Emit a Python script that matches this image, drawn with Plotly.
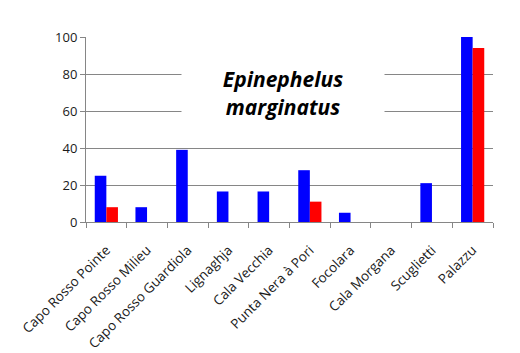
import plotly.graph_objects as go

categories = ["Capo Rosso Pointe", "Capo Rosso Milieu", "Capo Rosso Guardiola", "Lignaghja",
              "Cala Vecchia", "Punta Nera à Pori", "Focolara", "Cala Morgana", "Scuglietti", "Palazzu"]
blue_values = [25, 8, 39, 16.5, 16.5, 28, 5, 0, 21, 100]
red_values = [8, 0, 0, 0, 0, 11, 0, 0, 0, 94]
y_ticks = [0, 20, 40, 60, 80, 100]
title_lines = ["Epinephelus", "marginatus"]

fig = go.Figure()
fig.add_trace(go.Bar(x=categories, y=blue_values, marker=dict(color="#0000FF", line=dict(width=0))))
fig.add_trace(go.Bar(x=categories, y=red_values, marker=dict(color="#FF0000", line=dict(width=0))))

fig.update_layout(
    width=520, height=353,
    margin=dict(l=86, r=27, t=37, b=131),
    paper_bgcolor="white", plot_bgcolor="white",
    showlegend=False,
    barmode="group", bargap=0.43, bargroupgap=0,
    font=dict(family="Open Sans, Lato, sans-serif", size=12, color="#1a1a1a"),
    xaxis=dict(
        type="category", tickangle=-45, tickson="boundaries", automargin=False,
        ticks="outside", ticklen=5, tickcolor="#868686",
        ticklabelstandoff=14,
        showline=True, linecolor="#868686", linewidth=1,
        showgrid=False, tickfont=dict(size=13.5, color="#1a1a1a"),
    ),
    yaxis=dict(
        range=[0, 100], tickvals=y_ticks, ticks="outside", ticklen=5, tickcolor="#868686",
        automargin=False,
        showline=True, linecolor="#868686", linewidth=1,
        showgrid=True, gridcolor="#868686", gridwidth=1, zeroline=False,
        tickfont=dict(size=13, color="#1a1a1a"),
    ),
)

fig.add_annotation(
    xref="paper", yref="paper",
    x=(283 - 86) / 407, y=(222 - 93) / 185,
    xanchor="center", yanchor="middle",
    text="<b><i>" + title_lines[0] + "</i></b><br><b><i>" + title_lines[1] + "</i></b>",
    showarrow=False, align="center",
    font=dict(family="Open Sans, sans-serif", size=21, color="black"),
    bgcolor="white", width=200, height=56,
)

fig.write_html("out.html")
